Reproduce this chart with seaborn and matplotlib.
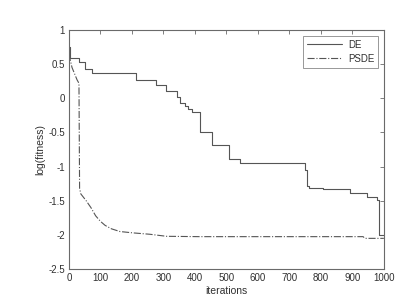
import matplotlib
matplotlib.use('Agg')
import matplotlib.pyplot as plt
import seaborn as sns
import pandas as pd
from matplotlib.ticker import FormatStrFormatter

# DE: ступенева крива (ітерація, значення після кроку)
de_iter = [0, 2, 32, 51, 74, 212, 278, 307, 344, 352, 368, 379, 391, 416, 455,
           508, 543, 751, 756, 762, 806, 892, 945, 977, 985, 1000]
de_val = [0.75, 0.585, 0.527, 0.43, 0.37, 0.27, 0.19, 0.107, 0.023, -0.064, -0.11,
          -0.15, -0.205, -0.50, -0.68, -0.89, -0.94, -1.05, -1.29, -1.32, -1.33,
          -1.39, -1.44, -1.49, -2.0, -2.0]

# PSDE
psde_iter = [0, 10, 26, 32, 34, 38, 55, 70, 85, 100, 115, 135, 162, 204, 257,
             310, 416, 934, 940, 1000]
psde_val = [0.65, 0.45, 0.27, 0.22, -1.32, -1.40, -1.50, -1.60, -1.72, -1.80,
            -1.86, -1.91, -1.95, -1.97, -1.99, -2.02, -2.025, -2.025, -2.05, -2.05]

sns.set_style("white")
plt.rcParams['font.family'] = ['Liberation Sans', 'DejaVu Sans']
plt.rcParams['axes.unicode_minus'] = False

line_col = '#555555'
axis_col = '#6a6a6a'
text_col = '#303030'

fig = plt.figure(figsize=(4.2, 3.0), dpi=100)
ax = fig.add_axes([0.164, 0.103, 0.75, 0.797])

de = pd.DataFrame({'iterations': de_iter, 'log(fitness)': de_val})
ps = pd.DataFrame({'iterations': psde_iter, 'log(fitness)': psde_val})

sns.lineplot(data=de, x='iterations', y='log(fitness)', ax=ax, color=line_col,
             lw=0.8, drawstyle='steps-post', label='DE', estimator=None)
sns.lineplot(data=ps, x='iterations', y='log(fitness)', ax=ax, color=line_col,
             lw=0.8, linestyle='-.', label='PSDE', estimator=None)

ax.set_xlim(0, 1000)
ax.set_ylim(-2.5, 1)
ax.set_xticks(range(0, 1001, 100))
ax.set_yticks([-2.5, -2, -1.5, -1, -0.5, 0, 0.5, 1])
ax.yaxis.set_major_formatter(FormatStrFormatter('%g'))
ax.tick_params(direction='in', length=3, width=0.6, labelsize=7,
               colors=axis_col, labelcolor=text_col, top=True, right=True, pad=3)
for s in ax.spines.values():
    s.set_color(axis_col)
    s.set_linewidth(0.8)

ax.set_xlabel('iterations', fontsize=7.5, color=text_col, labelpad=2)
ax.set_ylabel('log(fitness)', fontsize=7.5, color=text_col, labelpad=2)

leg = ax.legend(loc='upper right', fontsize=7, frameon=True, fancybox=False,
                handlelength=3.6, borderaxespad=0.6, labelcolor=text_col,
                borderpad=0.4, labelspacing=0.4, handletextpad=0.6)
leg.get_frame().set_edgecolor(axis_col)
leg.get_frame().set_linewidth(0.6)

fig.savefig('out.png', dpi=100)
